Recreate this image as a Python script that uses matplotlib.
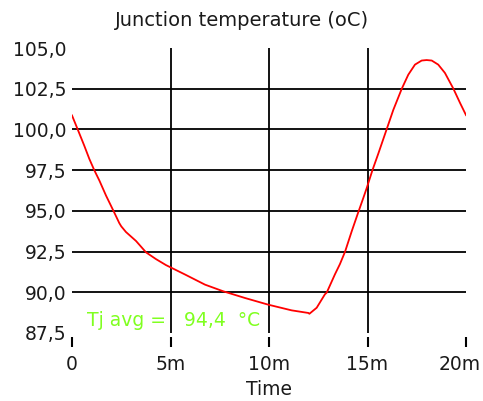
import matplotlib
matplotlib.use("Agg")
import matplotlib.pyplot as plt
from matplotlib.transforms import ScaledTranslation

# junction temperature over one cycle (time in minutes, temperature in degC)
time_min = [0, 0.29, 0.62, 0.88, 1.13, 1.39, 1.73, 1.98, 2.2, 2.4, 2.5, 2.74, 3.25,
            3.76, 4.26, 4.77, 5.74, 6.75, 7.68, 8.78, 9.96, 11.15, 12.0, 12.05,
            12.42, 12.84, 12.93, 13.35, 13.6, 13.86, 14.2, 14.53, 14.79, 14.96,
            15.26, 15.55, 15.97, 16.31, 16.74, 17.07, 17.41, 17.75, 18.0, 18.26,
            18.59, 18.93, 19.36, 19.7, 20.0]
tj = [100.86, 100.0, 99.01, 98.19, 97.5, 96.86, 95.93, 95.31, 94.76, 94.25, 94.05,
      93.7, 93.15, 92.45, 92.04, 91.67, 91.09, 90.47, 90.06, 89.65, 89.24, 88.89,
      88.73, 88.68, 89.05, 89.88, 89.98, 91.11, 91.73, 92.49, 93.75, 94.91, 95.8,
      96.4, 97.53, 98.52, 100.0, 101.2, 102.5, 103.36, 103.98, 104.23, 104.26,
      104.23, 103.98, 103.47, 102.5, 101.62, 100.88]
tj_avg = 94.4

x_ticks = [0, 5, 10, 15, 20]
x_labels = ["0", "5m", "10m", "15m", "20m"]
y_ticks = [87.5, 90.0, 92.5, 95.0, 97.5, 100.0, 102.5, 105.0]

W, H = 483, 401
fig = plt.figure(figsize=(W / 100, H / 100), dpi=100)
ax = fig.add_axes([72 / W, 1 - 333 / H, (466 - 72) / W, (333 - 48) / H])

txt = "#1a1a1a"
fs = 13.5

# grid: inner horizontal lines only, vertical lines at inner ticks
ax.hlines(y_ticks[1:-1], x_ticks[0], x_ticks[-1], color="black", lw=1.3, zorder=1)
ax.vlines(x_ticks[1:-1], y_ticks[0], y_ticks[-1], color="black", lw=1.3, zorder=1)

ax.plot(time_min, tj, color="red", lw=1.3, zorder=3)

ax.set_xlim(x_ticks[0], x_ticks[-1])
ax.set_ylim(y_ticks[0], y_ticks[-1])
ax.set_xticks(x_ticks)
ax.set_xticklabels(x_labels)
ax.set_yticks(y_ticks)
ax.set_yticklabels([f"{v:.1f}".replace(".", ",") for v in y_ticks])

for s in ax.spines.values():
    s.set_visible(False)
ax.spines["bottom"].set_position(("outward", 3))

ax.tick_params(axis="x", direction="out", length=7, width=1.5, color="black",
               pad=6, labelsize=fs, labelcolor=txt)
ax.tick_params(axis="y", length=0, pad=4, labelsize=fs, labelcolor=txt)

# keep the last label inside the figure
last = ax.get_xticklabels()[-1]
last.set_transform(last.get_transform() + ScaledTranslation(-6 / 100, 0, fig.dpi_scale_trans))

ax.set_xlabel("Time", fontsize=fs, color=txt, labelpad=4)
fig.text(0.5, 1 - 21 / H, "Junction temperature (oC)", ha="center", va="center",
         fontsize=14, color=txt)

avg_str = f"{tj_avg:.1f}".replace(".", ",")
ax.text(0.038, 0.045, f"Tj avg =   {avg_str}  °C", transform=ax.transAxes,
        ha="left", va="center", fontsize=fs, color="#80ff20", zorder=4)

fig.savefig("out.png", dpi=100)
